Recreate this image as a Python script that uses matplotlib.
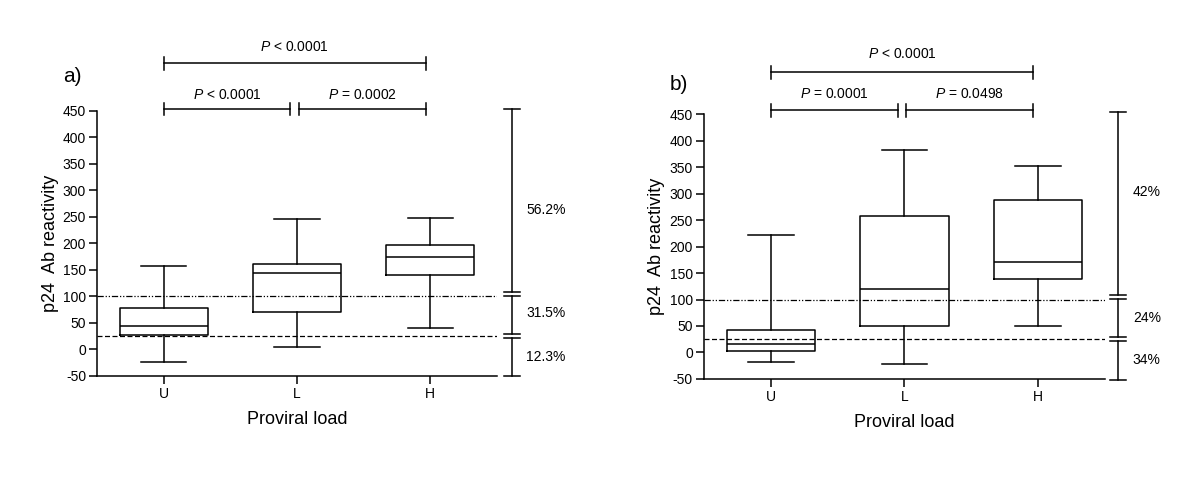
import matplotlib
matplotlib.use("Agg")
import matplotlib.pyplot as plt

plt.rcParams.update({
    'font.family': ['Liberation Sans', 'DejaVu Sans'],
    'mathtext.fontset': 'custom',
    'mathtext.rm': 'Liberation Sans',
    'mathtext.it': 'Liberation Sans:italic',
    'axes.unicode_minus': False,
    'font.size': 10,
})

# data
groups = ['U', 'L', 'H']

a_whislo = [-23, 5, 41]
a_q1 = [27, 70.5, 139.5]
a_med = [45, 144, 175]
a_q3 = [77.5, 160.5, 197]
a_whishi = [158, 245, 247]

b_whislo = [-17.5, -21.5, 50.5]
b_q1 = [3.5, 49.5, 138]
b_med = [15.5, 119, 170]
b_q3 = [42, 258, 288]
b_whishi = [222, 381.5, 352]

# cut-offs drawn as horizontal lines
cutoff_high = 100
cutoff_low = 25

# percentages next to the right bracket
a_pct = ['56.2%', '31.5%', '12.3%']
a_pct_y = [263, 68, -14]
b_pct = ['42%', '24%', '34%']
b_pct_y = [303, 66, -15]

# right bracket segments (top, bottom)
seg_top = [453, 101, 21]
seg_bot = [109, 28.5, -51]

# significance labels: U-H, U-L, L-H
a_sig = ['$P$ < 0.0001', '$P$ < 0.0001', '$P$ = 0.0002']
b_sig = ['$P$ < 0.0001', '$P$ = 0.0001', '$P$ = 0.0498']


def draw_panel(ax, letter, whislo, q1, med, q3, whishi, pct, pct_y,
               sig, sig_y, letter_y, brk_x, pct_x, ylab_x):
    stats = []
    for i in range(len(groups)):
        stats.append(dict(whislo=whislo[i], q1=q1[i], med=med[i],
                          q3=q3[i], whishi=whishi[i], label=groups[i]))
    lp = dict(color='black', linewidth=1.1)
    ax.bxp(stats, positions=range(len(groups)), widths=0.66, capwidths=0.34,
           showfliers=False, boxprops=lp, whiskerprops=lp, capprops=lp,
           medianprops=lp)

    ax.axhline(cutoff_high, color='black', lw=0.9,
               linestyle=(0, (5, 1.5, 1, 1.5, 1, 1.5)))
    ax.axhline(cutoff_low, color='black', lw=0.9, linestyle=(0, (4, 2)))

    ax.set_xlim(-0.5, 2.5)
    ax.set_ylim(-50, 450)
    ax.set_yticks(range(-50, 451, 50))
    ax.set_xticks(range(len(groups)))
    ax.set_xticklabels(groups)
    for s in ['top', 'right']:
        ax.spines[s].set_visible(False)
    for s in ['left', 'bottom']:
        ax.spines[s].set_linewidth(1.1)
    ax.tick_params(direction='out', length=6, width=1.1, labelsize=10, pad=2)
    ax.set_ylabel('p24  Ab reactivity', fontsize=13, va='center')
    ax.yaxis.set_label_coords(ylab_x, 0.5)
    ax.set_xlabel('Proviral load', fontsize=13, labelpad=7)

    # right bracket with breaks
    cw = 0.06
    for t, b in zip(seg_top, seg_bot):
        ax.plot([brk_x, brk_x], [t, b], color='black', lw=1.1, clip_on=False)
        for yy in (t, b):
            ax.plot([brk_x - cw, brk_x + cw], [yy, yy], color='black',
                    lw=1.1, clip_on=False)
    for txt, yy in zip(pct, pct_y):
        ax.text(pct_x, yy, txt, ha='left', va='center', fontsize=10)

    # significance brackets
    top_y, low_y, top_ty, low_ty = sig_y
    spans = [(0, 1.965, top_y, top_ty), (0, 0.95, low_y, low_ty),
             (1.015, 1.965, low_y, low_ty)]
    for (x0, x1, yy, ty), txt in zip(spans, sig):
        ax.plot([x0, x1], [yy, yy], color='black', lw=1.1, clip_on=False)
        for xx in (x0, x1):
            ax.plot([xx, xx], [yy - 12, yy + 12], color='black', lw=1.1,
                    clip_on=False)
        ax.text((x0 + x1) / 2, ty, txt, ha='center', va='center', fontsize=10)

    ax.text(-0.69, letter_y, letter, ha='center', va='center', fontsize=15)


fig = plt.figure(figsize=(12, 4.87), dpi=100)
ax_a = fig.add_axes([0.081, 0.228, 0.333, 0.545])
ax_b = fig.add_axes([0.5867, 0.2218, 0.334, 0.544])

draw_panel(ax_a, 'a)', a_whislo, a_q1, a_med, a_q3, a_whishi, a_pct, a_pct_y,
           a_sig, (539, 453, 570, 480), 514, 2.615, 2.72, -0.118)
draw_panel(ax_b, 'b)', b_whislo, b_q1, b_med, b_q3, b_whishi, b_pct, b_pct_y,
           b_sig, (529, 457, 563, 487), 505, 2.60, 2.71, -0.118)

fig.savefig('out.png', dpi=100)
